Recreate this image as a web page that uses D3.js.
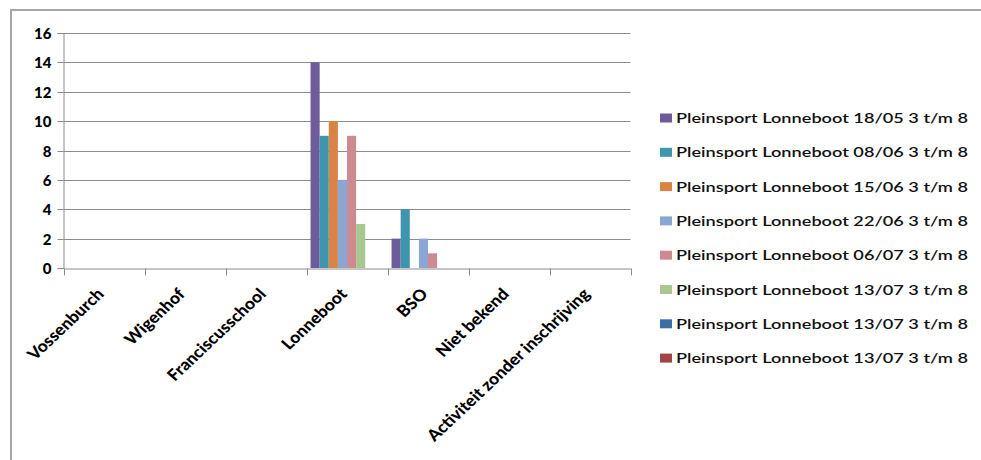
<!DOCTYPE html>
<html><head><meta charset="utf-8">
<script src="https://cdn.jsdelivr.net/npm/d3@7"></script>
<style>
html,body{margin:0;padding:0;background:#fff;}
svg{display:block;}
</style>
</head><body>
<svg id="chart" width="981" height="460"></svg>
<script>
const categories = ["Vossenburch","Wigenhof","Franciscusschool","Lonneboot","BSO","Niet bekend","Activiteit zonder inschrijving"];
const seriesNames = [
  "Pleinsport Lonneboot 18/05 3 t/m 8",
  "Pleinsport Lonneboot 08/06 3 t/m 8",
  "Pleinsport Lonneboot 15/06 3 t/m 8",
  "Pleinsport Lonneboot 22/06 3 t/m 8",
  "Pleinsport Lonneboot 06/07 3 t/m 8",
  "Pleinsport Lonneboot 13/07 3 t/m 8",
  "Pleinsport Lonneboot 13/07 3 t/m 8",
  "Pleinsport Lonneboot 13/07 3 t/m 8"
];
// values per series, in category order
const s1 = [0,0,0,14,2,0,0];
const s2 = [0,0,0,9,4,0,0];
const s3 = [0,0,0,10,0,0,0];
const s4 = [0,0,0,6,2,0,0];
const s5 = [0,0,0,9,1,0,0];
const s6 = [0,0,0,3,0,0,0];
const s7 = [0,0,0,0,0,0,0];
const s8 = [0,0,0,0,0,0,0];
const seriesValues = [s1,s2,s3,s4,s5,s6,s7,s8];
const colors = ["#6E5B9A","#3E96AE","#D98445","#8AA6D2","#CD8A91","#A9C790","#3D6DA6","#A34345"];
const yTicks = [0,2,4,6,8,10,12,14,16];

const svg = d3.select("#chart");
const plot = {left:63.5, right:630.5, top:33, bottom:268};
const FONT = "Lato, 'Open Sans', sans-serif";

// outer chart border
svg.append("rect").attr("x",11).attr("y",10).attr("width",1000).attr("height",500)
  .attr("fill","#fff").attr("stroke","#A6A6A6").attr("stroke-width",2);

const x0 = d3.scaleBand().domain(categories).range([plot.left, plot.right]).padding(0);
const x1 = d3.scaleBand().domain(d3.range(seriesNames.length))
  .range([x0.bandwidth()*0.05, x0.bandwidth()*0.95]).padding(0);
const y = d3.scaleLinear().domain([0,16]).range([plot.bottom, plot.top]);

// gridlines
svg.append("g").selectAll("line").data(yTicks.filter(d=>d>0)).join("line")
  .attr("x1",plot.left).attr("x2",plot.right)
  .attr("y1",d=>Math.round(y(d))+0.5).attr("y2",d=>Math.round(y(d))+0.5)
  .attr("stroke","#8C8C8C").attr("stroke-width",1);

// bars
const gBars = svg.append("g");
seriesValues.forEach((vals, si) => {
  gBars.append("g").selectAll("rect").data(vals.map((v,ci)=>({v, c:categories[ci]})).filter(d=>d.v>0)).join("rect")
    .attr("x", d => x0(d.c) + x1(si))
    .attr("width", x1.bandwidth())
    .attr("y", d => y(d.v))
    .attr("height", d => y(0) - y(d.v))
    .attr("fill", colors[si]);
});

// y axis
const yAxis = d3.axisLeft(y).tickValues(yTicks).tickSize(6).tickPadding(6).tickFormat(d3.format("d"));
const gy = svg.append("g").attr("transform",`translate(${plot.left},0)`).call(yAxis);
gy.select(".domain").attr("stroke","#8C8C8C");
gy.selectAll(".tick line").attr("stroke","#8C8C8C");
gy.selectAll(".tick text").attr("font-family",FONT).attr("font-weight","900")
  .attr("font-size","15px").attr("fill","#000").attr("dy","0.36em");
gy.selectAll(".tick").attr("transform", d=>`translate(0,${Math.round(y(d))+0.5})`);

// x axis
const xAxis = d3.axisBottom(x0).tickSize(0).tickFormat("");
const gx = svg.append("g").attr("transform",`translate(0,${plot.bottom+0.5})`).call(xAxis);
gx.select(".domain").attr("stroke","#8C8C8C");
gx.selectAll(".tick").remove();
const boundaries = categories.map(c=>x0(c)).concat([x0.range()[1]]);
gx.selectAll("line.bt").data(boundaries).join("line").attr("class","bt")
  .attr("x1",d=>Math.round(d)+0.5).attr("x2",d=>Math.round(d)+0.5).attr("y1",0).attr("y2",7)
  .attr("stroke","#8C8C8C");

// x labels rotated
svg.append("g").selectAll("text").data(categories).join("text")
  .attr("transform", d => `translate(${x0(d)+x0.bandwidth()/2+1},${plot.bottom+27}) scale(1.1,1) rotate(-46)`)
  .attr("text-anchor","end")
  .attr("font-family",FONT).attr("font-weight","900").attr("font-size","16px")
  .attr("fill","#000")
  .text(d=>d);

// legend
const legY0 = 118, legStep = 34.3;
const gl = svg.append("g");
seriesNames.forEach((name, i) => {
  const cy = legY0 + i*legStep;
  gl.append("rect").attr("x",660).attr("y",cy-4.5).attr("width",12).attr("height",9).attr("fill",colors[i]);
  gl.append("text").attr("x",676).attr("y",cy+5)
    .attr("font-family",FONT).attr("font-size","14px").attr("font-weight","600").attr("fill","#111")
    .attr("textLength",292).attr("lengthAdjust","spacingAndGlyphs")
    .text(name);
});
</script>
</body></html>
